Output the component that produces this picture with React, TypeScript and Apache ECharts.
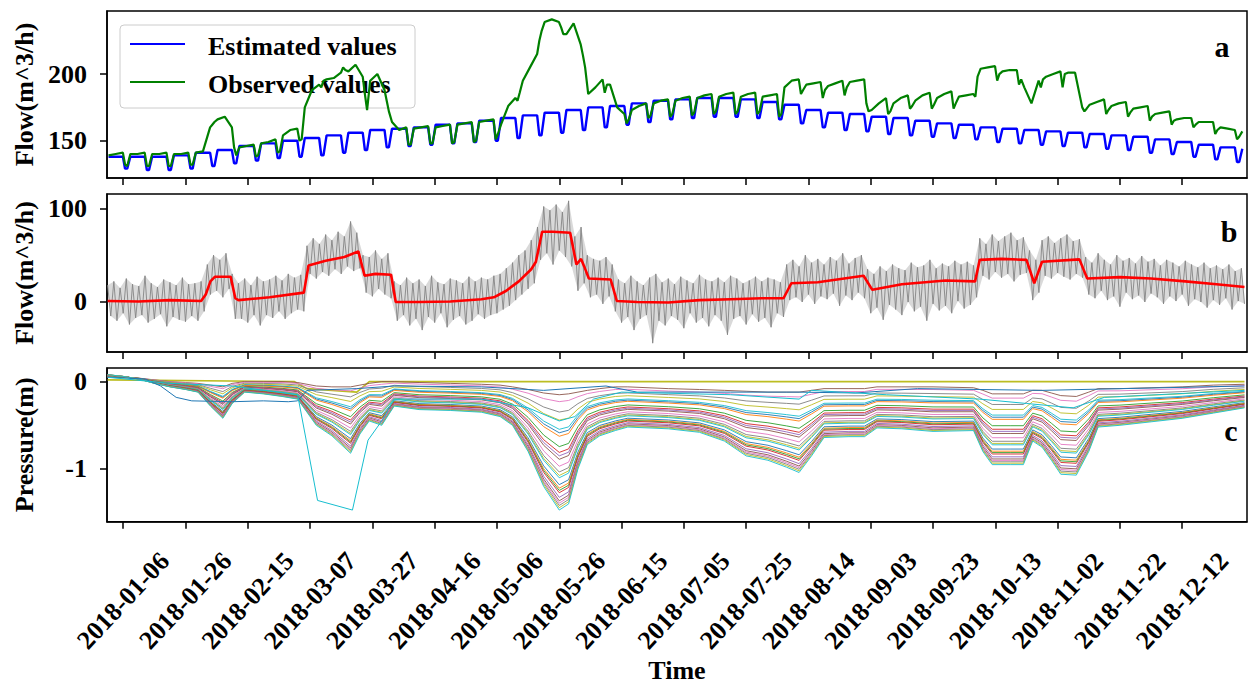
import React, { useEffect, useRef } from "react";
import * as echarts from "echarts";

// ---------- data (x = days since 2018-01-01) ----------
const START = Date.UTC(2018, 0, 1);
const tickDays = [5, 25, 45, 65, 85, 105, 125, 145, 165, 185, 205, 225, 245, 265, 285, 305, 325, 345];

// panel a: weekly highs / weekend lows of the estimated flow
const estHigh = [138,138,138,139,141,143,146,148,150,152,154,156,158,159,160,162,163,165,167,169,171,173,175,176,178,180,181,182,182,181,179,177,173,171,170,168,167,165,163,162,160,159,158,157,156,155,154,153,151,149,147,145,144];
const estLow = [129,128,128,129,131,133,135,137,138,139,141,143,145,146,147,148,149,150,152,154,156,158,160,162,164,166,167,168,168,167,166,163,160,158,157,155,154,153,152,151,149,148,147,146,145,144,143,141,140,138,136,134,133];
// observed flow per week: Mon, Wed, Fri, Sat, Sun
const obsWeeks = [
  [139,140,141,132,131],[140,140,141,131,131],[140,140,141,131,131],[140,140,141,132,132],
  [141,142,160,162,164],[166,168,160,145,139],[145,146,147,138,139],[148,149,151,141,142],
  [154,158,159,150,151],[175,188,192,190,195],[196,197,201,205,203],[202,207,198,185,173],
  [195,200,188,180,172],[164,158,160,147,147],[159,160,161,148,148],[160,161,162,148,149],
  [162,163,164,149,150],[164,165,166,151,155],[162,176,182,180,186],[195,205,215,225,232],
  [239,241,239,235,230],[230,238,222,214,205],[185,190,196,186,192],[192,175,170,163,166],
  [173,176,178,167,169],[178,180,181,168,170],[180,182,183,169,171],[182,184,185,170,172],
  [183,185,186,170,172],[183,185,186,170,172],[183,184,185,168,170],[190,195,196,185,188],
  [192,193,194,182,188],[191,193,195,184,190],[194,195,196,178,172],[173,178,182,170,172],
  [178,182,184,174,176],[180,184,186,174,177],[182,185,187,174,178],[183,184,185,183,198],
  [204,205,206,195,200],[202,203,203,192,196],[190,178,195,190,196],[198,200,202,190,200],
  [201,201,175,172,174],[177,179,181,170,173],[176,178,179,168,171],[174,175,176,165,168],
  [170,171,172,162,165],[166,167,167,160,162],[164,164,164,155,158],[160,159,158,151,153],
  [157]
];
const weekOffsets = [0.3, 2.6, 4.9, 5.6, 6.3];

// panel b: smoothed flow (red) and raw flow envelope (grey)
const redDays = [0,10,20,30,31.5,33,34.5,39.5,41,42,52,63,64.5,70,76,80.5,82.5,86,91,92.5,100,110,120,124,128,132,136,137.5,139.5,143,148.5,150.5,152,153,154.5,161.5,163.5,170,180,190,200,210,217,219.5,228,242.7,245.5,255,269,278.5,280,287,295,297.5,300,312,314.5,325,335,346,356,365];
const redVals = [1,0.5,2,1,8,22,27,27,4,2,5,10,39,44,48,54,28,30,29,0,0,0.5,3,5,12,22,35,43,75,75,74,40,46,38,25,24,1,0,-0.5,2,3,4,4,20,21,28,13,19,23,22,45,46,45,20,43,45.5,25,26.5,25,22,19,16];
const grayHi = [
  18,22,15,25,19,17,28,20,16,24,21,18,26,19,20,
  22,40,50,45,52,30,
  20,25,18,27,22,24,28,23,30,26,29,
  60,68,62,72,66,75,70,86,74,
  50,48,55,46,52,
  22,18,26,20,24,17,28,21,19,25,23,20,27,22,26,24,
  28,30,36,42,50,55,66,
  80,102,98,104,96,108,
  70,80,50,46,44,48,40,
  24,20,28,22,18,26,30,21,25,19,27,23,20,29,24,22,26,21,28,25,20,23,27,22,26,24,21,
  40,
  45,38,50,42,46,40,48,44,52,41,47,50,
  35,30,38,33,40,36,34,42,37,39,45,36,41,38,44,40,43,39,
  68,62,72,65,70,74,66,69,
  55,45,
  66,70,63,68,72,65,67,
  48,42,52,45,40,50,44,47,41,49,43,46,39,45,42,38,44,40,37,42,36,39,35,40,33,36
];
const grayLo = [
  -15,-20,-12,-24,-17,-14,-22,-18,-13,-26,-16,-19,-21,-15,-20,
  -10,8,12,5,14,-18,
  -18,-22,-14,-25,-14,-17,-10,-18,-12,-8,-10,
  30,25,32,28,35,30,38,33,36,
  10,6,14,8,4,
  -20,-14,-25,-18,-30,-16,-22,-12,-27,-19,-15,-24,-20,-13,-18,-14,
  -12,-8,-4,2,8,14,20,
  45,52,40,55,48,38,
  12,20,5,8,-2,6,-10,
  -22,-16,-30,-18,-14,-44,-20,-25,-15,-19,-28,-12,-22,-17,-26,-14,-20,-35,-18,-15,-24,-13,-21,-17,-27,-12,-16,
  2,
  5,0,8,-2,6,3,9,-4,7,2,10,4,
  -12,-6,-19,-3,-8,-14,0,-10,-5,-20,-2,-9,-4,-12,1,-7,-3,5,
  28,24,32,26,30,22,29,31,
  2,10,
  28,25,31,27,24,30,26,
  8,4,12,2,6,-5,10,3,7,0,9,5,-2,6,1,8,-4,3,0,-6,2,-3,4,-8,1,-2
];

// panel c: deepest and shallowest pressure curves, and each sensor's position between them
const pDays = [0,5,10,15,20,25,29,33,37,40,44,50,56,61,64,67,72,78,81,84,88,92,100,110,120,126,130,135,140,145,148,151,154,158,163,167,180,190,198,205,212,218,222,226,230,238,243,247,255,265,278,281,284,290,294,297,300,303,306,311,315,318,325,335,345,355,365];
const pLow = [0.08,0.06,0.03,-0.02,-0.06,-0.09,-0.12,-0.28,-0.42,-0.25,-0.12,-0.14,-0.17,-0.2,-0.35,-0.5,-0.62,-0.82,-0.6,-0.45,-0.5,-0.28,-0.32,-0.33,-0.35,-0.4,-0.5,-0.8,-1.2,-1.47,-1.4,-1.0,-0.72,-0.62,-0.56,-0.52,-0.54,-0.58,-0.68,-0.85,-0.9,-0.98,-1.04,-0.85,-0.64,-0.63,-0.63,-0.53,-0.54,-0.57,-0.56,-0.8,-0.95,-0.95,-0.95,-0.68,-0.75,-0.9,-1.06,-1.07,-0.8,-0.52,-0.5,-0.46,-0.42,-0.36,-0.3];
const pHigh = [0.05,0.05,0.04,0.02,0.0,-0.01,-0.02,-0.04,-0.06,-0.02,0.0,0.0,0.0,-0.01,-0.03,-0.05,-0.06,-0.06,-0.04,-0.02,0.0,0.0,-0.01,-0.02,-0.03,-0.04,-0.06,-0.09,-0.13,-0.15,-0.14,-0.12,-0.1,-0.08,-0.06,-0.06,-0.08,-0.09,-0.1,-0.11,-0.12,-0.12,-0.12,-0.1,-0.08,-0.08,-0.08,-0.06,-0.06,-0.06,-0.07,-0.1,-0.14,-0.14,-0.14,-0.1,-0.1,-0.13,-0.16,-0.17,-0.12,-0.08,-0.08,-0.07,-0.06,-0.04,-0.03];
const sensorDepth = [0.0,0.06,0.15,0.22,0.3,0.33,0.36,0.45,0.5,0.53,0.56,0.62,0.67,0.7,0.72,0.78,0.81,0.83,0.85,0.89,0.92,0.94,0.96,0.98,1.0];
const cyanDays = [0,20,40,61,67.4,78.6,83.6,88,92,120,135,145,150,156,165,200,222,226,250,280,295,310,320,365];
const cyanVals = [0.05,-0.02,-0.05,-0.15,-1.36,-1.47,-0.67,-0.45,-0.2,-0.2,-0.3,-0.45,-0.4,-0.2,-0.12,-0.15,-0.2,-0.1,-0.15,-0.2,-0.25,-0.3,-0.18,-0.1];
const blueDays = [0,12,17,22,27,40,50,58,61,64,80,92,120,140,160,170,200,222,240,260,300,365];
const blueVals = [0.05,0.03,-0.05,-0.18,-0.22,-0.23,-0.22,-0.23,-0.22,-0.1,-0.08,-0.05,-0.06,-0.1,-0.05,-0.12,-0.12,-0.12,-0.13,-0.08,-0.1,-0.05];
const flatDays = [0,60,64,80,84,365];
const flatVals = [0.02,0.0,-0.08,-0.12,0.0,0.0];

const TAB10 = ["#1f77b4","#ff7f0e","#2ca02c","#d62728","#9467bd","#8c564b","#e377c2","#7f7f7f","#bcbd22","#17becf"];
const FONT = "'Liberation Serif', 'Times New Roman', serif";

function dayLabel(d: number): string {
  const dt = new Date(START + Math.round(d) * 86400000);
  return dt.toISOString().slice(0, 10);
}

function pairs(xs: number[], ys: number[]) {
  return xs.map((x, i) => [x, ys[i]]);
}

function buildOption() {
  const estPts: number[][] = [];
  estHigh.forEach((h, k) => {
    const l = estLow[k];
    const vals = [h, h, h, l, l];
    weekOffsets.forEach((o, j) => {
      const d = 7 * k + o;
      if (d <= 365.8) estPts.push([d, vals[j]]);
    });
  });
  const obsPts: number[][] = [];
  obsWeeks.forEach((w, k) => {
    w.forEach((v, j) => {
      const d = 7 * k + weekOffsets[j];
      if (d <= 365.8) obsPts.push([d, v]);
    });
  });
  const grayPts: number[][] = [];
  grayHi.forEach((h, i) => {
    grayPts.push([2 * i, h]);
    grayPts.push([2 * i + 1, grayLo[i]]);
  });

  const grids = [
    { left: 107, top: 11, width: 1140, height: 167 },
    { left: 107, top: 194, width: 1140, height: 158 },
    { left: 107, top: 368, width: 1140, height: 163 },
  ].map((g) => ({ ...g, show: true, borderColor: "#000", borderWidth: 1.5, backgroundColor: "transparent" }));

  const xAxes = [0, 1, 2].map((i) => ({
    type: "value",
    gridIndex: i,
    min: -0.2,
    max: 365.8,
    name: i === 2 ? "Time" : "",
    nameLocation: "middle",
    nameGap: 124,
    nameTextStyle: { fontFamily: FONT, fontWeight: "bold", fontSize: 26, color: "#000" },
    axisLine: { show: true, onZero: false, lineStyle: { color: "#000", width: 1.5 } },
    axisTick: { show: true, customValues: tickDays, length: 7, lineStyle: { color: "#000", width: 1.5 } },
    axisLabel: {
      show: i === 2,
      customValues: tickDays,
      formatter: (v: number) => dayLabel(v),
      rotate: 47,
      align: "center",
      verticalAlign: "middle",
      margin: 79,
      fontFamily: FONT,
      fontWeight: "bold",
      fontSize: 26,
      color: "#000",
    },
    splitLine: { show: false },
  }));

  const yDefs = [
    { min: 122, max: 247.3, ticks: [150, 200], name: "Flow(m^3/h)" },
    { min: -53.4, max: 115.3, ticks: [0, 100], name: "Flow(m^3/h)" },
    { min: -1.603, max: 0.156, ticks: [-1, 0], name: "Pressure(m)" },
  ];
  const yAxes = yDefs.map((d, i) => ({
    type: "value",
    gridIndex: i,
    min: d.min,
    max: d.max,
    name: d.name,
    nameLocation: "middle",
    nameRotate: 90,
    nameGap: 70,
    nameTextStyle: { fontFamily: FONT, fontWeight: "bold", fontSize: 26, color: "#000" },
    axisLine: { show: true, onZero: false, lineStyle: { color: "#000", width: 1.5 } },
    axisTick: { show: true, customValues: d.ticks, length: 7, lineStyle: { color: "#000", width: 1.5 } },
    axisLabel: {
      customValues: d.ticks,
      margin: 20,
      fontFamily: FONT,
      fontWeight: "bold",
      fontSize: 26,
      color: "#000",
    },
    splitLine: { show: false },
  }));

  const lineBase = { type: "line", showSymbol: false, symbol: "none", silent: true };
  const series: any[] = [
    { ...lineBase, name: "Estimated values", xAxisIndex: 0, yAxisIndex: 0, data: estPts, lineStyle: { color: "#0000ff", width: 2.4 }, z: 2 },
    { ...lineBase, name: "Observed values", xAxisIndex: 0, yAxisIndex: 0, data: obsPts, lineStyle: { color: "#008000", width: 2.2 }, z: 3 },
    {
      type: "custom",
      name: "raw-band",
      xAxisIndex: 1,
      yAxisIndex: 1,
      silent: true,
      data: [[0, 0]],
      z: 1,
      renderItem: (_params: any, api: any) => {
        const upper = grayHi.map((h, i) => api.coord([2 * i, h]));
        const lower = grayLo.map((l, i) => api.coord([2 * i + 1, l])).reverse();
        return {
          type: "polygon",
          shape: { points: upper.concat(lower) },
          style: { fill: "#a0a0a0", opacity: 0.4 },
        };
      },
    },
    { ...lineBase, name: "raw", xAxisIndex: 1, yAxisIndex: 1, data: grayPts, lineStyle: { color: "#858585", width: 0.9 }, z: 2 },
    { ...lineBase, name: "smoothed", xAxisIndex: 1, yAxisIndex: 1, data: pairs(redDays, redVals), lineStyle: { color: "#ff0000", width: 2.6 }, z: 3 },
  ];
  series.push({ ...lineBase, name: "p-flat", xAxisIndex: 2, yAxisIndex: 2, data: pairs(flatDays, flatVals), lineStyle: { color: "#bcbd22", width: 1.6 }, z: 2 });
  sensorDepth.forEach((w, i) => {
    const vals = pDays.map((_, j) => pHigh[j] + w * (pLow[j] - pHigh[j]));
    series.push({
      ...lineBase,
      name: "p" + i,
      xAxisIndex: 2,
      yAxisIndex: 2,
      data: pairs(pDays, vals),
      lineStyle: { color: TAB10[(i + 5) % 10], width: 1, opacity: 0.9 },
      z: 2,
    });
  });
  series.push({ ...lineBase, name: "p-blue", xAxisIndex: 2, yAxisIndex: 2, data: pairs(blueDays, blueVals), lineStyle: { color: "#1f77b4", width: 1 }, z: 3 });
  series.push({ ...lineBase, name: "p-cyan", xAxisIndex: 2, yAxisIndex: 2, data: pairs(cyanDays, cyanVals), lineStyle: { color: "#17becf", width: 1 }, z: 3 });

  const letterStyle = { fontFamily: FONT, fontWeight: "bold", fontSize: 30, fill: "#000", align: "center", verticalAlign: "middle" };
  const legendText = { fontFamily: FONT, fontWeight: "bold", fontSize: 26, fill: "#000", verticalAlign: "middle" };
  const graphic = [
    { type: "text", x: 1222, y: 46, style: { ...letterStyle, text: "a" }, z: 20 },
    { type: "text", x: 1229, y: 231, style: { ...letterStyle, text: "b" }, z: 20 },
    { type: "text", x: 1231, y: 430, style: { ...letterStyle, text: "c" }, z: 20 },
    {
      type: "group",
      z: 20,
      children: [
        { type: "rect", shape: { x: 120, y: 25, width: 295, height: 83, r: 4 }, style: { fill: "rgba(255,255,255,0.8)", stroke: "#cccccc", lineWidth: 1 } },
        { type: "line", shape: { x1: 130, y1: 44, x2: 185, y2: 44 }, style: { stroke: "#0000ff", lineWidth: 2 } },
        { type: "text", x: 208, y: 46, style: { ...legendText, text: "Estimated values" } },
        { type: "line", shape: { x1: 130, y1: 82, x2: 185, y2: 82 }, style: { stroke: "#008000", lineWidth: 2 } },
        { type: "text", x: 208, y: 84, style: { ...legendText, text: "Observed values" } },
      ],
    },
  ];

  return {
    animation: false,
    backgroundColor: "#ffffff",
    grid: grids,
    xAxis: xAxes,
    yAxis: yAxes,
    series,
    graphic,
  };
}

export default function App() {
  const ref = useRef<HTMLDivElement>(null);
  useEffect(() => {
    if (!ref.current) return;
    const chart = echarts.init(ref.current, null, { renderer: "svg" });
    chart.setOption(buildOption() as any);
    return () => chart.dispose();
  }, []);
  return (
    <div
      ref={ref}
      style={{ position: "absolute", left: 0, top: 0, width: 1250, height: 684, background: "#fff" }}
    />
  );
}
